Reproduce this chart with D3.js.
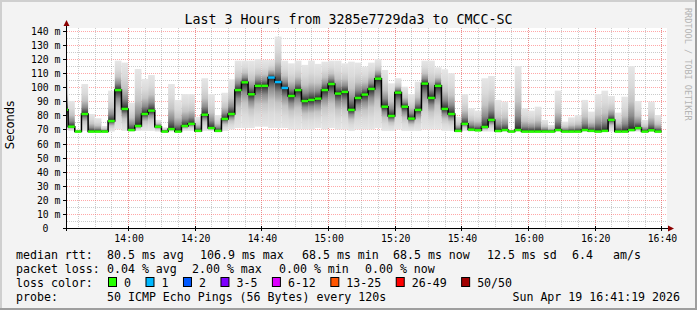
<!DOCTYPE html>
<html>
<head>
<meta charset="utf-8">
<script src="https://cdn.jsdelivr.net/npm/d3@7"></script>
<style>
  body { margin: 0; background: #f3f3f3; }
  svg { display: block; }
  text { font-family: "DejaVu Sans Mono", monospace; fill: #000; }
</style>
</head>
<body>
<script>
// one entry per 2 minute step, first step starts 13:40 (partly off the left edge)
var medianMs = [
    84, 72, 68.5, 81, 68.5, 68.5, 68.5, 76, 98, 84.6,
    69.6, 72.5, 81, 83.4, 72, 68.5, 70.3, 68.5, 72.5, 74,
    69, 80.5, 71, 69, 77.5, 81, 98, 103.5, 95, 101,
    101, 106.9, 103.7, 99.5, 93.8, 98, 90.2, 91, 91.9, 98,
    102.3, 95.5, 96.7, 83.9, 92.4, 94.8, 98.8, 106.1, 86.2, 79.6,
    96.2, 86.2, 77.7, 83.9, 102.6, 92.4, 101, 84.6, 81, 69,
    74, 69.9, 69.4, 71.8, 76.8, 68.9, 69.6, 68.5, 69.6, 68.5,
    68.5, 68.5, 68.5, 68.5, 69.6, 68.5, 68.5, 68.5, 69.6, 69,
    68.5, 69, 76.8, 68.5, 68.5, 69.6, 71, 68.5, 69.4, 68.5
];
var smokeMax = [
    108.7, 90.3, 70, 102.3, 81, 78, 72.5, 97.6, 118.9, 117.5,
    89, 113, 105.9, 108.7, 76.8, 71.5, 102.3, 91, 95.2, 95.2,
    79, 106.4, 95.2, 80.3, 96.1, 105.6, 118.9, 118.9, 118.9, 120,
    119.4, 119.4, 136, 118.9, 117, 118.9, 115.9, 118.9, 116.6, 118.2,
    118.9, 118.9, 117, 118.2, 117.5, 114.7, 117.5, 119.9, 112.3, 102.8,
    106.4, 100.4, 95.2, 104, 118.9, 118.9, 114.2, 112.8, 110, 79,
    95.2, 85, 83.4, 106.4, 108, 91, 89.8, 70, 115.1, 85,
    83.4, 86.2, 76.8, 73.2, 97.6, 75.6, 78.6, 80.3, 91, 82.7,
    95.2, 97.6, 93.8, 82, 93.3, 115.1, 90.3, 76.8, 89.8, 80.3
];
var smokeMin = [
    70, 69, 68.5, 69, 68.5, 68.5, 68.5, 68.5, 70, 69,
    68.5, 69, 69, 69, 68.5, 68.5, 68.5, 68.5, 69, 69,
    68.5, 69, 69, 68.5, 69, 70, 71, 71, 71, 72,
    72, 71, 71, 71, 70, 70, 70, 70, 71, 70,
    71, 70, 70, 69, 70, 70, 70, 71, 69, 69,
    70, 69, 69, 69, 70, 70, 70, 69, 69, 68.5,
    69, 68.5, 68.5, 68.5, 68.5, 68.5, 68.5, 68.5, 68.5, 68.5,
    68.5, 68.5, 68.5, 68.5, 68.5, 68.5, 68.5, 68.5, 68.5, 68.5,
    68.5, 68.5, 68.5, 68.5, 68.5, 68.5, 68.5, 68.5, 68.5, 68.5
];
// lost pings per step (out of 50)
var lossCount = [
    0, 0, 0, 0, 0, 0, 0, 0, 0, 0,
    0, 0, 0, 0, 0, 0, 0, 0, 0, 0,
    0, 0, 0, 0, 0, 0, 0, 0, 0, 0,
    0, 1, 1, 1, 0, 0, 0, 0, 0, 0,
    0, 0, 0, 0, 0, 0, 0, 0, 0, 0,
    0, 0, 0, 0, 0, 0, 0, 0, 0, 0,
    0, 0, 0, 0, 0, 0, 0, 0, 0, 0,
    0, 0, 0, 0, 0, 0, 0, 0, 0, 0,
    0, 0, 0, 0, 0, 0, 0, 0, 0, 0
];

var lossLabels = ['0', '1', '2', '3-5', '6-12', '13-25', '26-49', '50/50'];
var lossColors = ['#26ff00', '#00b8ff', '#0059ff', '#7e00ff', '#dd00ff', '#ff5500', '#ff0000', '#a10000'];
var lossUpper = [0, 1, 2, 5, 12, 25, 49, 50];

var rttStats = [['80.5 ms avg', 107], ['106.9 ms max', 200], ['68.5 ms min', 302],
    ['68.5 ms now', 393], ['12.5 ms sd', 487], ['6.4', 572], ['am/s', 613]];
var lossStats = [['0.04 % avg', 107], ['2.00 % max', 192], ['0.00 % min', 279], ['0.00 % now', 365]];

var title = 'Last 3 Hours from 3285e7729da3 to CMCC-SC';
var probeText = '50 ICMP Echo Pings (56 Bytes) every 120s';
var stampText = 'Sun Apr 19 16:41:19 2026';

var width = 697, height = 310;
var plotL = 67, plotR = 667, plotT = 28, plotB = 228;

var firstStep = new Date(2026, 3, 19, 13, 40, 0);
var steps = medianMs.map(function(d, i) {
    return {
        t0: d3.timeMinute.offset(firstStep, 2 * i),
        t1: d3.timeMinute.offset(firstStep, 2 * i + 2),
        median: d, hi: smokeMax[i], lo: smokeMin[i], loss: lossCount[i]
    };
});

var x = d3.scaleTime()
    .domain([new Date(2026, 3, 19, 13, 41, 40), new Date(2026, 3, 19, 16, 41, 40)])
    .range([plotL, plotR]);
var y = d3.scaleLinear()
    .domain([0, 142.1])
    .range([plotB, plotT]);

var svg = d3.select('body').append('svg')
    .attr('width', width)
    .attr('height', height);

// canvas + frame
svg.append('rect').attr('width', width).attr('height', height).attr('fill', '#f3f3f3');
svg.append('path').attr('d', 'M1,' + height + 'V1H' + width)
    .attr('fill', 'none').attr('stroke', '#cfcfcf').attr('stroke-width', 2);
svg.append('path').attr('d', 'M0,' + (height - 1) + 'H' + (width - 1) + 'V0')
    .attr('fill', 'none').attr('stroke', '#9e9e9e').attr('stroke-width', 2);

svg.append('rect')
    .attr('x', plotL).attr('y', plotT)
    .attr('width', plotR - plotL).attr('height', plotB - plotT)
    .attr('fill', '#fff');

var defs = svg.append('defs');
defs.append('clipPath').attr('id', 'plot')
    .append('rect').attr('x', plotL).attr('y', plotT)
    .attr('width', plotR - plotL).attr('height', plotB - plotT);

// smoke shading: dark next to the median, fading out toward the extremes
var shadeStops = [[0, '#202020'], [0.07, '#4a4a4a'], [0.22, '#8c8c8c'], [0.45, '#c4c4c4'], [0.7, '#dadada'], [1, '#e6e6e6']];
function gradient(id, y1, y2) {
    var g = defs.append('linearGradient').attr('id', id)
        .attr('x1', 0).attr('x2', 0).attr('y1', y1).attr('y2', y2);
    shadeStops.forEach(function(s) {
        g.append('stop').attr('offset', s[0]).attr('stop-color', s[1]);
    });
}
gradient('smokeUp', 1, 0);
gradient('smokeDown', 0, 1);

// grid
var grid = svg.append('g').attr('clip-path', 'url(#plot)');
var minorX = d3.timeMinute.every(5).range(new Date(2026, 3, 19, 13, 45), new Date(2026, 3, 19, 16, 42));
var majorX = d3.timeMinute.every(20).range(new Date(2026, 3, 19, 14, 0), new Date(2026, 3, 19, 16, 42));
var minorY = d3.range(5, 141, 10);
var majorY = d3.range(10, 141, 10);

function px(v) { return Math.round(v) + 0.5; }

grid.selectAll('.vmin').data(minorX).enter().append('line')
    .attr('x1', function(d) { return px(x(d)); })
    .attr('x2', function(d) { return px(x(d)); })
    .attr('y1', plotT).attr('y2', plotB)
    .attr('stroke', 'rgba(140,140,140,0.45)').attr('stroke-dasharray', '1,1');
grid.selectAll('.hmin').data(minorY).enter().append('line')
    .attr('x1', plotL).attr('x2', plotR)
    .attr('y1', function(d) { return px(y(d)); })
    .attr('y2', function(d) { return px(y(d)); })
    .attr('stroke', 'rgba(140,140,140,0.45)').attr('stroke-dasharray', '1,1');
grid.selectAll('.vmaj').data(majorX).enter().append('line')
    .attr('x1', function(d) { return px(x(d)); })
    .attr('x2', function(d) { return px(x(d)); })
    .attr('y1', plotT).attr('y2', plotB)
    .attr('stroke', 'rgba(255,95,95,0.55)').attr('stroke-dasharray', '1,1');
grid.selectAll('.hmaj').data(majorY).enter().append('line')
    .attr('x1', plotL).attr('x2', plotR)
    .attr('y1', function(d) { return px(y(d)); })
    .attr('y2', function(d) { return px(y(d)); })
    .attr('stroke', 'rgba(255,95,95,0.55)').attr('stroke-dasharray', '1,1');

// smoke
var plot = svg.append('g').attr('clip-path', 'url(#plot)');
plot.selectAll('.up').data(steps).enter().append('rect')
    .attr('x', function(d) { return x(d.t0); })
    .attr('width', function(d) { return x(d.t1) - x(d.t0); })
    .attr('y', function(d) { return y(d.hi); })
    .attr('height', function(d) { return Math.max(0, y(d.median) - y(d.hi)); })
    .attr('fill', 'url(#smokeUp)');
plot.selectAll('.down').data(steps.filter(function(d) { return d.median - d.lo > 0.6; }))
    .enter().append('rect')
    .attr('x', function(d) { return x(d.t0); })
    .attr('width', function(d) { return x(d.t1) - x(d.t0); })
    .attr('y', function(d) { return y(d.median); })
    .attr('height', function(d) { return y(d.lo) - y(d.median); })
    .attr('fill', 'url(#smokeDown)');

// median step line
var stepLine = d3.line()
    .x(function(d) { return x(d[0]); })
    .y(function(d) { return y(d[1]); })
    .curve(d3.curveStepAfter);
var linePts = steps.map(function(d) { return [d.t0, d.median]; });
linePts.push([steps[steps.length - 1].t1, steps[steps.length - 1].median]);
plot.append('path').attr('d', stepLine(linePts))
    .attr('fill', 'none').attr('stroke', '#000').attr('stroke-width', 1.5);

function lossColor(n) {
    for (var i = 0; i < lossUpper.length; i++) {
        if (n <= lossUpper[i]) return lossColors[i];
    }
    return lossColors[lossColors.length - 1];
}
plot.selectAll('.med').data(steps).enter().append('line')
    .attr('x1', function(d) { return x(d.t0); })
    .attr('x2', function(d) { return x(d.t1); })
    .attr('y1', function(d) { return y(d.median); })
    .attr('y2', function(d) { return y(d.median); })
    .attr('stroke', function(d) { return lossColor(d.loss); })
    .attr('stroke-width', 2.5);

// axes
svg.append('line').attr('x1', plotL - 0.5).attr('x2', plotL - 0.5)
    .attr('y1', plotB + 3).attr('y2', plotT - 4).attr('stroke', '#000');
svg.append('line').attr('x1', plotL - 4).attr('x2', plotR + 2)
    .attr('y1', plotB + 0.5).attr('y2', plotB + 0.5).attr('stroke', '#000');
svg.append('path').attr('d', 'M63.5,26L69.5,26L66.5,20Z').attr('fill', '#8b0000');
svg.append('path').attr('d', 'M668,225.5L668,231.5L674,228.5Z').attr('fill', '#8b0000');

svg.selectAll('.ytick').data([0].concat(majorY)).enter().append('line')
    .attr('x1', plotL - 4).attr('x2', plotL)
    .attr('y1', function(d) { return px(y(d)); })
    .attr('y2', function(d) { return px(y(d)); })
    .attr('stroke', '#000');
svg.selectAll('.xtick').data(majorX).enter().append('line')
    .attr('x1', function(d) { return px(x(d)); })
    .attr('x2', function(d) { return px(x(d)); })
    .attr('y1', plotB - 2).attr('y2', plotB + 3)
    .attr('stroke', '#000');

svg.selectAll('.ylab').data([0].concat(majorY)).enter().append('text')
    .attr('x', function(d) { return d === 0 ? 48.5 : 60.5; })
    .attr('y', function(d) { return y(d) + 4; })
    .attr('text-anchor', 'end')
    .style('font-size', '9.8px')
    .text(function(d) { return d === 0 ? '0' : d + ' m'; });

var fmt = d3.timeFormat('%H:%M');
svg.selectAll('.xlab').data(majorX).enter().append('text')
    .attr('x', function(d) { return x(d) + 1; })
    .attr('y', 242)
    .attr('text-anchor', 'middle')
    .style('font-size', '9.8px')
    .text(function(d) { return fmt(d); });

svg.append('text')
    .attr('transform', 'translate(14,125) rotate(-90)')
    .attr('text-anchor', 'middle')
    .style('font-family', '"DejaVu Sans", sans-serif')
    .style('font-size', '11.5px')
    .text('Seconds');

svg.append('text')
    .attr('x', width / 2).attr('y', 23.5)
    .attr('text-anchor', 'middle')
    .style('font-size', '13.3px')
    .text(title);

svg.append('text')
    .attr('transform', 'translate(685,8) rotate(90)')
    .style('font-size', '8.5px')
    .style('fill', '#b4b4b4')
    .text('RRDTOOL / TOBI OETIKER');

// legend
var lg = svg.append('g').style('font-size', '11.6px');
lg.append('text').attr('x', 16).attr('y', 258.5).text('median rtt:');
lg.selectAll('.rtt').data(rttStats).enter().append('text')
    .attr('x', function(d) { return d[1]; }).attr('y', 258.5)
    .text(function(d) { return d[0]; });
lg.append('text').attr('x', 16).attr('y', 272.5).text('packet loss:');
lg.selectAll('.pl').data(lossStats).enter().append('text')
    .attr('x', function(d) { return d[1]; }).attr('y', 272.5)
    .text(function(d) { return d[0]; });
lg.append('text').attr('x', 16).attr('y', 286.5).text('loss color:');

var sx = 108;
lossLabels.forEach(function(label, i) {
    lg.append('rect')
        .attr('x', sx + 0.5).attr('y', 277.5)
        .attr('width', 8).attr('height', 9)
        .attr('fill', lossColors[i]).attr('stroke', '#000');
    var t = lg.append('text').attr('x', sx + 16).attr('y', 286.5).text(label);
    sx = sx + 16 + t.node().getComputedTextLength() + 14.5;
});

lg.append('text').attr('x', 16).attr('y', 300.5).text('probe:');
lg.append('text').attr('x', 107).attr('y', 300.5).text(probeText);
lg.append('text').attr('x', 680).attr('y', 300.5).attr('text-anchor', 'end').text(stampText);
</script>
</body>
</html>
